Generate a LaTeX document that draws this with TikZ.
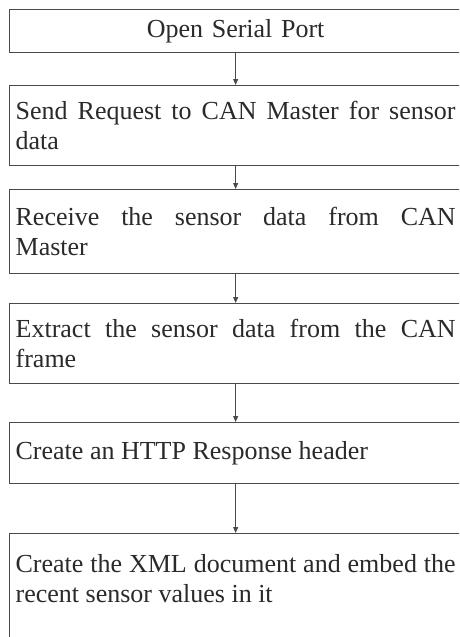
\documentclass[tikz,border=0pt]{standalone}
\usepackage{fontspec}
\setmainfont{Liberation Serif}
\usetikzlibrary{arrows.meta}
\definecolor{linec}{HTML}{4A4A4A}
\definecolor{txtc}{HTML}{2A2A2A}
\tikzset{
  stepbox/.style={draw=linec, line width=1.3pt, rectangle, anchor=north west,
    text width=440pt, inner xsep=6pt, inner ysep=0pt, align=justify,
    text=txtc, font=\fontsize{26}{30}\selectfont},
  flowarrow/.style={draw=linec, line width=0.8pt, -{Triangle[length=6pt,width=5pt]}}
}
\begin{document}
\begin{tikzpicture}[x=1pt,y=-1pt]
\useasboundingbox (0,0) rectangle (459,637);
\fill[white] (0,0) rectangle (459,637);
\clip (0,0) rectangle (459,637);
\node[stepbox, align=center, minimum height=43pt, text depth=5pt] (b1) at (9,9) {Open Serial Port};
\node[stepbox, minimum height=80pt] (b2) at (9,85) {Send Request to CAN Master for sensor data};
\node[stepbox, minimum height=84pt] (b3) at (9,189) {Receive the sensor data from CAN\linebreak Master};
\node[stepbox, minimum height=80pt] (b4) at (9,303) {Extract the sensor data from the CAN frame};
\node[stepbox, minimum height=61pt] (b5) at (9,422) {Create an HTTP Response header};
\node[stepbox, minimum height=130pt, text depth=70pt] (b6) at (9,533) {Create the XML document and embed the recent sensor values in it};
\draw[flowarrow] (b1.south) -- (b2.north);
\draw[flowarrow] (b2.south) -- (b3.north);
\draw[flowarrow] (b3.south) -- (b4.north);
\draw[flowarrow] (b4.south) -- (b5.north);
\draw[flowarrow] (b5.south) -- (b6.north);
\end{tikzpicture}
\end{document}
